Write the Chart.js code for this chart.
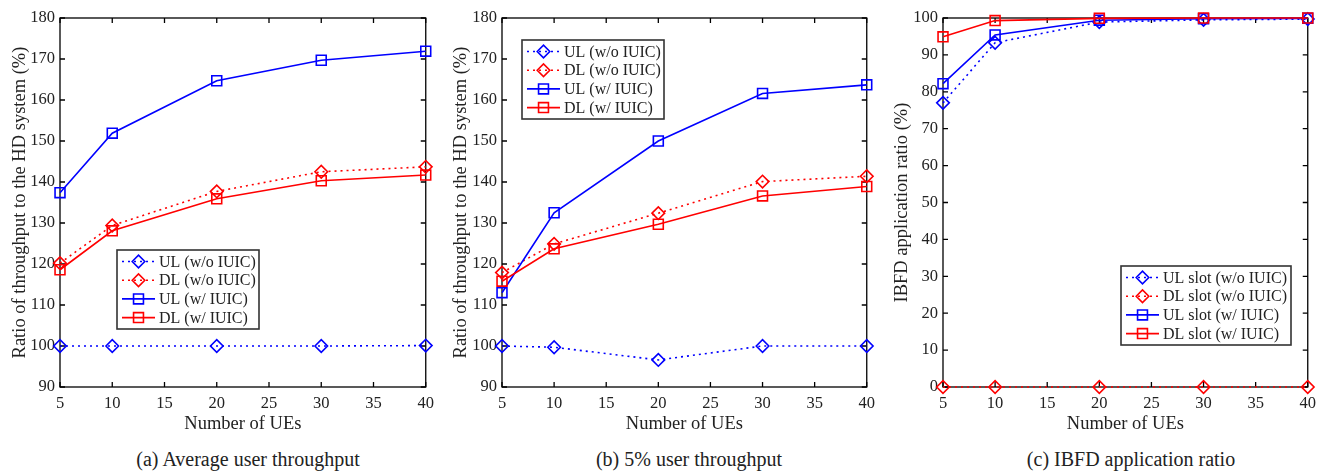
<!DOCTYPE html>
<html>
<head>
<meta charset="utf-8">
<script src="https://cdn.jsdelivr.net/npm/chart.js@4.4.1/dist/chart.umd.min.js"></script>
<style>
  body { margin: 0; background: #fff; width: 1323px; height: 472px; position: relative; overflow: hidden; }
  .panel { position: absolute; top: 0; width: 441px; height: 440px; }
  .caption { position: absolute; top: 447px; width: 400px; text-align: center;
    font-family: "Liberation Serif", serif; font-size: 20px; line-height: 24px; color: #222; }
</style>
</head>
<body>
<div class="panel" style="left:0"><canvas id="chartA"></canvas></div>
<div class="panel" style="left:441px"><canvas id="chartB"></canvas></div>
<div class="panel" style="left:882px"><canvas id="chartC"></canvas></div>
<div class="caption" style="left:48px">(a) Average user throughput</div>
<div class="caption" style="left:489px">(b) 5% user throughput</div>
<div class="caption" style="left:931px">(c) IBFD application ratio</div>
<script>
const ues = [5, 10, 20, 30, 40];

const avgUlNoIuic = [100, 100, 100, 100, 100.1];
const avgDlNoIuic = [120.2, 129.4, 137.7, 142.5, 143.7];
const avgUlIuic = [137.4, 151.9, 164.7, 169.7, 171.9];
const avgDlIuic = [118.6, 128.1, 135.9, 140.3, 141.7];

const p5UlNoIuic = [100, 99.7, 96.6, 100, 100];
const p5DlNoIuic = [117.9, 124.9, 132.4, 140.1, 141.4];
const p5UlIuic = [113, 132.5, 150, 161.6, 163.7];
const p5DlIuic = [115.8, 123.7, 129.7, 136.6, 138.9];

const ibfdUlNoIuic = [77, 93.3, 98.9, 99.5, 99.7];
const ibfdDlNoIuic = [0, 0, 0, 0, 0];
const ibfdUlIuic = [82.2, 95.4, 99.4, 99.8, 99.9];
const ibfdDlIuic = [94.9, 99.3, 99.9, 100, 100];

const throughputLabels = ["UL (w/o IUIC)", "DL (w/o IUIC)", "UL (w/ IUIC)", "DL (w/ IUIC)"];
const slotLabels = ["UL slot (w/o IUIC)", "DL slot (w/o IUIC)", "UL slot (w/ IUIC)", "DL slot (w/ IUIC)"];

const FONT = "'Liberation Serif', 'Times New Roman', serif";
const TEXT = "#222";
const styles = [
  { color: "#0000ff", dash: [2, 4], point: "rectRot", radius: 6.3 },
  { color: "#ff0000", dash: [2, 4], point: "rectRot", radius: 6.3 },
  { color: "#0000ff", dash: [], point: "rect", radius: 7 },
  { color: "#ff0000", dash: [], point: "rect", radius: 7 },
];

// frame + inward ticks, MATLAB style
const framePlugin = {
  id: "frame",
  beforeDatasetsDraw(chart) {
    const { ctx, chartArea: a, scales } = chart;
    ctx.save();
    ctx.strokeStyle = "#000";
    ctx.lineWidth = 1.3;
    ctx.strokeRect(a.left, a.top, a.right - a.left, a.bottom - a.top);
    ctx.beginPath();
    scales.x.ticks.forEach((t) => {
      const px = scales.x.getPixelForValue(t.value);
      ctx.moveTo(px, a.bottom); ctx.lineTo(px, a.bottom - 5);
      ctx.moveTo(px, a.top); ctx.lineTo(px, a.top + 5);
    });
    scales.y.ticks.forEach((t) => {
      const py = scales.y.getPixelForValue(t.value);
      ctx.moveTo(a.left, py); ctx.lineTo(a.left + 5, py);
      ctx.moveTo(a.right, py); ctx.lineTo(a.right - 5, py);
    });
    ctx.stroke();
    ctx.restore();
  },
};

const legendPlugin = {
  id: "boxLegend",
  afterDraw(chart, args, opts) {
    const { ctx } = chart;
    const rowH = 18.7;
    ctx.save();
    ctx.fillStyle = "#fff";
    ctx.fillRect(opts.x, opts.y, opts.w, opts.h);
    ctx.strokeStyle = "#333";
    ctx.lineWidth = 1.6;
    ctx.strokeRect(opts.x, opts.y, opts.w, opts.h);
    chart.data.datasets.forEach((ds, i) => {
      const cy = opts.y + 11.5 + i * rowH;
      const lx = opts.x + 5;
      ctx.strokeStyle = ds.borderColor;
      ctx.lineWidth = 1.6;
      ctx.setLineDash(ds.borderDash);
      ctx.beginPath();
      ctx.moveTo(lx, cy);
      ctx.lineTo(lx + 33, cy);
      ctx.stroke();
      ctx.setLineDash([]);
      ctx.fillStyle = "rgba(0,0,0,0)";
      Chart.helpers.drawPoint(ctx, { pointStyle: ds.pointStyle, radius: ds.pointRadius, rotation: 0, borderWidth: 1.6 }, lx + 16.5, cy);
      ctx.fillStyle = TEXT;
      ctx.font = "16px " + FONT;
      ctx.textBaseline = "middle";
      ctx.textAlign = "left";
      ctx.fillText(ds.label, lx + 37, cy + 1);
    });
    ctx.restore();
  },
};

function makeChart(id, labels, series, yMin, yMax, yTitle, legend, leftW, rightPad) {
  const datasets = series.map((vals, i) => ({
    label: labels[i],
    data: ues.map((u, j) => ({ x: u, y: vals[j] })),
    borderColor: styles[i].color,
    borderWidth: 1.6,
    borderDash: styles[i].dash,
    pointStyle: styles[i].point,
    pointRadius: styles[i].radius,
    pointBorderWidth: 1.6,
    pointBorderColor: styles[i].color,
    pointBackgroundColor: "rgba(0,0,0,0)",
    tension: 0,
    clip: false,
    order: series.length - 1 - i,
  }));

  new Chart(document.getElementById(id), {
    type: "line",
    data: { datasets },
    plugins: [framePlugin, legendPlugin],
    options: {
      responsive: true,
      maintainAspectRatio: false,
      animation: false,
      layout: { padding: { top: 18, right: rightPad, left: 0, bottom: 0 } },
      plugins: {
        legend: { display: false },
        tooltip: { enabled: false },
        boxLegend: legend,
      },
      scales: {
        x: {
          type: "linear",
          min: 5,
          max: 40,
          ticks: { stepSize: 5, color: TEXT, font: { family: FONT, size: 16.5 }, padding: 7, maxRotation: 0, autoSkip: false },
          grid: { display: false, drawTicks: false },
          border: { display: false },
          title: { display: true, text: "Number of UEs", color: TEXT, font: { family: FONT, size: 18.5, lineHeight: 1.2 }, padding: { top: 0, bottom: 5 } },
          afterFit: (scale) => { scale.height = 53; },
        },
        y: {
          min: yMin,
          max: yMax,
          ticks: { stepSize: 10, color: TEXT, font: { family: FONT, size: 16.5 }, padding: 5, autoSkip: false },
          grid: { display: false, drawTicks: false },
          border: { display: false },
          title: { display: true, text: yTitle, color: TEXT, font: { family: FONT, size: 18.5, lineHeight: 1.2 }, padding: { top: 9, bottom: 0 } },
          afterFit: (scale) => { scale.width = leftW; },
        },
      },
    },
  });
}

makeChart("chartA", throughputLabels, [avgUlNoIuic, avgDlNoIuic, avgUlIuic, avgDlIuic],
  90, 180, "Ratio of throughput to the HD system (%)", { x: 117, y: 250, w: 142, h: 79 }, 60, 13);
makeChart("chartB", throughputLabels, [p5UlNoIuic, p5DlNoIuic, p5UlIuic, p5DlIuic],
  90, 180, "Ratio of throughput to the HD system (%)", { x: 81, y: 40, w: 142, h: 79 }, 61, 11);
makeChart("chartC", slotLabels, [ibfdUlNoIuic, ibfdDlNoIuic, ibfdUlIuic, ibfdDlIuic],
  0, 100, "IBFD application ratio (%)", { x: 239, y: 266, w: 170, h: 79 }, 61, 11);
</script>
</body>
</html>
